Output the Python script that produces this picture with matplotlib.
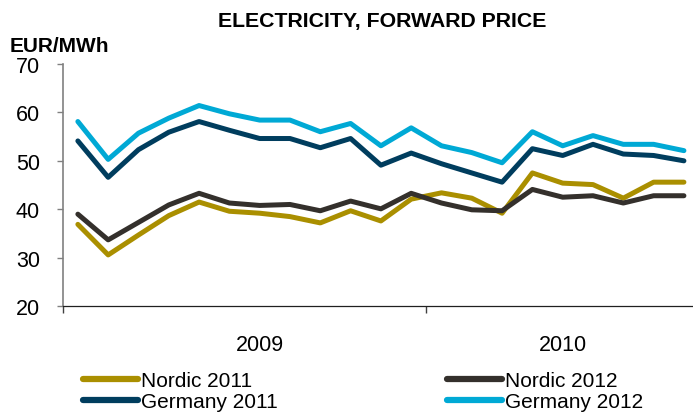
import matplotlib
matplotlib.use("Agg")
import matplotlib.pyplot as plt
import numpy as np
import pandas as pd

plt.rcParams['font.family'] = ['Liberation Sans', 'DejaVu Sans']

# monthly forward prices, Jan 2009 .. Sep 2010 (EUR/MWh)
months = pd.date_range('2009-01-01', periods=21, freq='MS')
nordic_2011 = [36.9, 30.6, 34.7, 38.7, 41.5, 39.6, 39.2, 38.5, 37.2, 39.7, 37.6,
               42.1, 43.4, 42.3, 39.2, 47.5, 45.4, 45.1, 42.3, 45.6, 45.6]
nordic_2012 = [39.0, 33.7, 37.3, 40.9, 43.3, 41.3, 40.8, 41.0, 39.7, 41.7, 40.1,
               43.3, 41.3, 39.9, 39.7, 44.1, 42.5, 42.8, 41.3, 42.8, 42.8]
germany_2011 = [54.1, 46.6, 52.3, 55.9, 58.1, 56.3, 54.6, 54.6, 52.7, 54.6, 49.1,
                51.6, 49.4, 47.5, 45.6, 52.5, 51.1, 53.4, 51.4, 51.1, 50.0]
germany_2012 = [58.1, 50.3, 55.7, 58.8, 61.4, 59.7, 58.4, 58.4, 56.0, 57.7, 53.1,
                56.8, 53.1, 51.7, 49.6, 56.0, 53.1, 55.2, 53.4, 53.4, 52.1]
year_labels = ['2009', '2010']
y_ticks = [20, 30, 40, 50, 60, 70]

series = [
    ('Nordic 2011', nordic_2011, '#AA8F00'),
    ('Germany 2011', germany_2011, '#003D5E'),
    ('Nordic 2012', nordic_2012, '#34302C'),
    ('Germany 2012', germany_2012, '#00A9D5'),
]

fig = plt.figure(figsize=(6.93, 4.14), dpi=100)
ax = fig.add_axes([0.0905, 0.2577, 0.9095, 0.5857])

x = np.arange(len(months))
handles = []
# draw order: nordic first, germany on top
for name, vals, col in series:
    ln, = ax.plot(x, vals, color=col, lw=3.6, solid_joinstyle='round',
                  solid_capstyle='round', label=name)
    handles.append(ln)

ax.set_ylim(20, 70)
ax.set_xlim(-0.5, 20.3)
ax.set_yticks(y_ticks)
ax.tick_params(axis='y', direction='out', length=4.5, width=1, color='#808080',
               pad=12, labelsize=15.5)
for lbl in ax.get_yticklabels():
    lbl.set_va('center_baseline')

# year boundaries as major ticks, year names as minor ticks
ax.set_xticks([-0.5, 11.5])
ax.set_xticklabels(['', ''])
ax.tick_params(axis='x', which='major', direction='out', length=5, width=1,
               color='#404040')
ax.set_xticks([6, 16], minor=True)
ax.set_xticklabels(year_labels, minor=True)
ax.tick_params(axis='x', which='minor', length=0, pad=20, labelsize=15.5)

ax.spines['top'].set_visible(False)
ax.spines['right'].set_visible(False)
ax.spines['left'].set_color('#808080')
ax.spines['left'].set_linewidth(1.2)
ax.spines['bottom'].set_color('#202020')
ax.spines['bottom'].set_linewidth(0.9)

fig.text(382.5 / 693, 1 - 21 / 414, 'ELECTRICITY, FORWARD PRICE', ha='center',
         va='center', fontsize=15.3, fontweight='bold')
fig.text(10 / 693, 1 - 46 / 414, 'EUR/MWh', ha='left', va='center',
         fontsize=15, fontweight='bold')

leg = fig.legend(handles=handles, loc='upper left', ncol=2,
                 bbox_to_anchor=(83 / 693, 1 - 372 / 414), frameon=False,
                 fontsize=15, handlelength=2.65, handletextpad=0.15,
                 columnspacing=8.1, labelspacing=0.12, borderpad=0,
                 borderaxespad=0)
for h in leg.get_lines():
    h.set_linewidth(4.5)
    h.set_solid_capstyle('round')

fig.savefig('out.png', dpi=100)
